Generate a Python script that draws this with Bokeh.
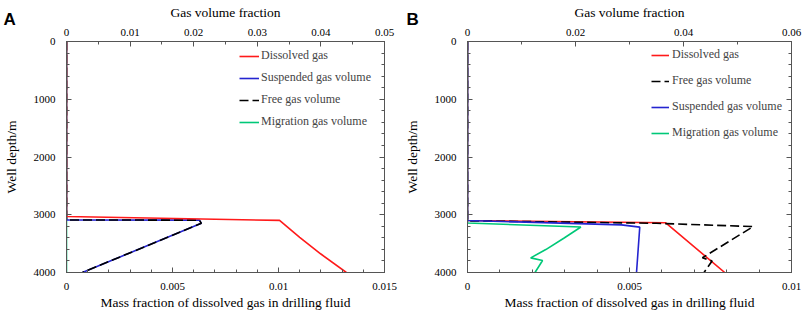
from bokeh.plotting import figure
from bokeh.layouts import row
from bokeh.models import (Range1d, LinearAxis, FixedTicker, CustomJSTickFormatter,
                          Legend, LegendItem, Label)
from bokeh.embed import file_html
from bokeh.resources import INLINE

# ---------------- data ----------------
depth_ticks = [0, 1000, 2000, 3000, 4000]
depth_minor = list(range(0, 4001, 200))

# Panel A
a_mass_ticks = [0, 0.005, 0.01, 0.015]
a_vol_ticks = [0, 0.01, 0.02, 0.03, 0.04, 0.05]
a_dis_mass = [0, 0, 0.01005, 0.0110, 0.0120, 0.0132]
a_dis_depth = [0, 3030, 3098, 3390, 3680, 4000]
a_susp_vol = [0, 0, 0.0209, 0.0212, 0.0025]
a_susp_depth = [0, 3091, 3093, 3149, 4000]
a_free_vol = [0, 0, 0.0209, 0.0212, 0.0025]
a_free_depth = [0, 3091, 3093, 3149, 4000]
a_mig_vol = [0, 0]
a_mig_depth = [0, 4000]

# Panel B
b_mass_ticks = [0, 0.005, 0.01]
b_vol_ticks = [0, 0.02, 0.04, 0.06]
b_dis_mass = [0, 0, 0.00611, 0.00794]
b_dis_depth = [0, 3100, 3138, 4000]
b_free_vol = [0, 0, 0.035, 0.0529, 0.0435, 0.0453, 0.0438]
b_free_depth = [0, 3105, 3148, 3205, 3745, 3800, 4000]
b_susp_vol = [0, 0, 0.0285, 0.0319, 0.0313]
b_susp_depth = [0, 3100, 3175, 3215, 4000]
b_mig_vol = [0, 0, 0.0210, 0.0179, 0.0145, 0.0117, 0.0139, 0.0125]
b_mig_depth = [0, 3143, 3212, 3402, 3603, 3747, 3793, 4000]

RED = "#ff1a1a"
BLUE = "#2424d0"
BLACK = "#000000"
GREEN = "#00c878"
AXC = "#555555"
SERIF = "Liberation Serif"

fmt = CustomJSTickFormatter(code="return String(parseFloat(tick.toFixed(6)));")
blank = CustomJSTickFormatter(code="return '';")


def style_axis(ax):
    ax.axis_line_color = AXC
    ax.major_tick_line_color = AXC
    ax.minor_tick_line_color = AXC
    ax.major_tick_in = 5
    ax.major_tick_out = 0
    ax.minor_tick_in = 3
    ax.minor_tick_out = 0
    ax.major_label_text_font = SERIF
    ax.major_label_text_font_size = "11px"
    ax.major_label_text_color = "black"
    ax.axis_label_text_font = SERIF
    ax.axis_label_text_font_size = "13.5px"
    ax.axis_label_text_font_style = "normal"
    ax.axis_label_text_color = "black"


def make_panel(width, bl, br, mass_max, mass_ticks, mass_minor, vol_max, vol_ticks,
               vol_minor, letter, letter_x):
    p = figure(width=width, height=312, x_range=Range1d(0, mass_max),
               y_range=Range1d(4000, 0), output_backend="svg", toolbar_location=None,
               min_border_left=bl, min_border_right=br, min_border_top=41,
               min_border_bottom=39)
    p.extra_x_ranges = {"vol": Range1d(0, vol_max)}
    p.grid.visible = False
    p.outline_line_color = AXC
    p.background_fill_color = "white"
    p.border_fill_color = "white"

    xb = p.xaxis[0]
    xb.ticker = FixedTicker(ticks=mass_ticks, minor_ticks=mass_minor)
    xb.formatter = fmt
    xb.axis_label = "Mass fraction of dissolved gas in drilling fluid"
    style_axis(xb)
    xb.major_label_standoff = 10
    xb.axis_label_standoff = 2

    yl = p.yaxis[0]
    yl.ticker = FixedTicker(ticks=depth_ticks, minor_ticks=depth_minor)
    yl.formatter = fmt
    yl.axis_label = "Well depth/m"
    style_axis(yl)
    yl.major_label_standoff = 11
    yl.axis_label_standoff = 12

    xt = LinearAxis(x_range_name="vol", axis_label="Gas volume fraction",
                    ticker=FixedTicker(ticks=vol_ticks, minor_ticks=vol_minor),
                    formatter=fmt)
    style_axis(xt)
    xt.major_label_standoff = 6
    xt.axis_label_standoff = 6
    p.add_layout(xt, "above")

    yr = LinearAxis(ticker=FixedTicker(ticks=depth_ticks, minor_ticks=depth_minor),
                    formatter=blank)
    style_axis(yr)
    yr.major_label_standoff = 0
    p.add_layout(yr, "right")

    # panel letter (canvas units; side panel so it is not clipped to the frame)
    p.add_layout(Label(x=letter_x, y=18.5, x_units="canvas", y_units="canvas",
                       text=letter, text_font="Liberation Sans", text_font_style="bold",
                       text_font_size="17px", text_baseline="alphabetic",
                       text_color="black"), "right")
    return p


# ---------- Panel A ----------
pa = make_panel(400, 66, 16, 0.015, a_mass_ticks,
                [i * 0.001 for i in range(16)], 0.05, a_vol_ticks,
                [i * 0.005 for i in range(11)], "A", 3)
lw = 1.6
ra_mig = pa.line(a_mig_vol, a_mig_depth, x_range_name="vol", line_color=GREEN, line_width=lw)
ra_susp = pa.line(a_susp_vol, a_susp_depth, x_range_name="vol", line_color=BLUE, line_width=lw)
ra_free = pa.line(a_free_vol, a_free_depth, x_range_name="vol", line_color=BLACK,
                  line_width=lw, line_dash="9 4")
ra_dis = pa.line(a_dis_mass, a_dis_depth, line_color=RED, line_width=lw)

leg_a = Legend(items=[LegendItem(label="Dissolved gas", renderers=[ra_dis]),
                      LegendItem(label="Suspended gas volume", renderers=[ra_susp]),
                      LegendItem(label="Free gas volume", renderers=[ra_free]),
                      LegendItem(label="Migration gas volume", renderers=[ra_mig])],
               location=(173, 143), padding=0, margin=0, border_line_alpha=0,
               background_fill_alpha=0, glyph_width=20, glyph_height=14,
               label_height=14, label_standoff=2, spacing=7,
               label_text_font=SERIF, label_text_font_size="12px")
pa.add_layout(leg_a)

# ---------- Panel B ----------
pb = make_panel(403, 67, 12, 0.01, b_mass_ticks,
                [i * 0.001 for i in range(11)], 0.06, b_vol_ticks,
                [i * 0.01 for i in range(7)], "B", 6)
rb_mig = pb.line(b_mig_vol, b_mig_depth, x_range_name="vol", line_color=GREEN, line_width=lw)
rb_dis = pb.line(b_dis_mass, b_dis_depth, line_color=RED, line_width=lw)
rb_free = pb.line(b_free_vol, b_free_depth, x_range_name="vol", line_color=BLACK,
                  line_width=lw, line_dash="9 4")
rb_susp = pb.line(b_susp_vol, b_susp_depth, x_range_name="vol", line_color=BLUE, line_width=lw)

leg_b = Legend(items=[LegendItem(label="Dissolved gas", renderers=[rb_dis]),
                      LegendItem(label="Free gas volume", renderers=[rb_free]),
                      LegendItem(label="Suspended gas volume", renderers=[rb_susp]),
                      LegendItem(label="Migration gas volume", renderers=[rb_mig])],
               location=(184, 132), padding=0, margin=0, border_line_alpha=0,
               background_fill_alpha=0, glyph_width=18, glyph_height=14,
               label_height=14, label_standoff=3, spacing=11,
               label_text_font=SERIF, label_text_font_size="12px")
pb.add_layout(leg_b)

layout = row(pa, pb)
open("out.html", "w").write(file_html(layout, INLINE))
